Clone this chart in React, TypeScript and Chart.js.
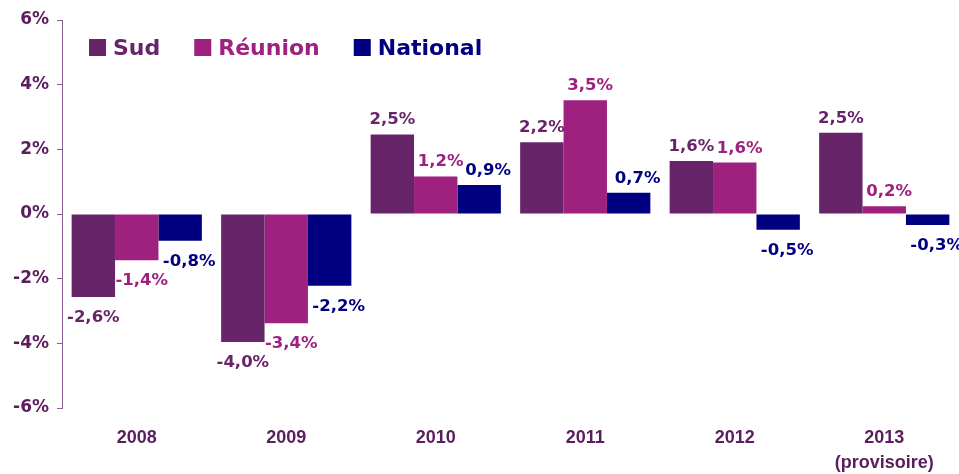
import React, { useEffect, useRef } from "react";
import { Chart, registerables } from "chart.js";

Chart.register(...registerables);

const categories: (string | string[])[] = ["2008", "2009", "2010", "2011", "2012", ["2013", "(provisoire)"]];
const seriesNames = ["Sud", "Réunion", "National"];
const sudValues = [-2.57, -3.96, 2.46, 2.22, 1.64, 2.51];
const reunionValues = [-1.43, -3.38, 1.16, 3.52, 1.59, 0.24];
const nationalValues = [-0.83, -2.22, 0.9, 0.66, -0.49, -0.34];
const seriesColors = ["#672469", "#9E2180", "#000080"];
const yTicks = [-6, -4, -2, 0, 2, 4, 6];

const AXIS_COLOR = "#8E5F95";
const TEXT_COLOR = "#5A1D5E";
const LABEL_FONT = "bold 16.5px 'DejaVu Sans'";
const LEGEND_FONT = "bold 22px 'DejaVu Sans'";
const LABEL_SHIFT = [0, 5, 9];

const fmt = (v: number) => (Math.round(v * 10) / 10).toFixed(1).replace(".", ",") + "%";

const valueLabels = {
  id: "valueLabels",
  afterDatasetsDraw(chart: any) {
    const ctx = chart.ctx;
    ctx.save();
    ctx.font = LABEL_FONT;
    ctx.textAlign = "center";
    ctx.textBaseline = "alphabetic";
    chart.data.datasets.forEach((ds: any, i: number) => {
      const meta = chart.getDatasetMeta(i);
      ctx.fillStyle = ds.backgroundColor;
      meta.data.forEach((bar: any, j: number) => {
        const v = ds.data[j];
        const p = bar.getProps(["x", "y"], true);
        const ty = v >= 0 ? p.y - 10 : p.y + 25;
        ctx.fillText(fmt(v), p.x + LABEL_SHIFT[i], ty);
      });
    });
    ctx.restore();
  },
};

const customLegend = {
  id: "customLegend",
  afterDraw(chart: any) {
    const ctx = chart.ctx;
    ctx.save();
    ctx.font = LEGEND_FONT;
    ctx.textAlign = "left";
    ctx.textBaseline = "alphabetic";
    let x = chart.chartArea.left + 27;
    const yc = 47;
    chart.data.datasets.forEach((ds: any) => {
      ctx.fillStyle = ds.backgroundColor;
      ctx.fillRect(x, yc - 8, 17, 17);
      x += 24;
      ctx.fillText(ds.label, x, yc + 8);
      x += ctx.measureText(ds.label).width + 34;
    });
    ctx.restore();
  },
};

export default function App() {
  const ref = useRef<HTMLCanvasElement>(null);
  useEffect(() => {
    document.body.style.margin = "0";
    const chart = new Chart(ref.current as HTMLCanvasElement, {
      type: "bar",
      data: {
        labels: categories as any,
        datasets: [sudValues, reunionValues, nationalValues].map((d, i) => ({
          label: seriesNames[i],
          data: d,
          backgroundColor: seriesColors[i],
          borderWidth: 0,
          categoryPercentage: 0.871,
          barPercentage: 1,
        })),
      },
      options: {
        responsive: false,
        animation: false,
        layout: { padding: { top: 20, right: -3, bottom: 0, left: 0 } },
        plugins: { legend: { display: false }, tooltip: { enabled: false } },
        scales: {
          x: {
            grid: { display: false, drawTicks: false },
            border: { display: false },
            ticks: {
              color: TEXT_COLOR,
              font: { family: "'Liberation Sans'", weight: "bold", size: 18, lineHeight: 1.4 },
              padding: 17,
              maxRotation: 0,
              autoSkip: false,
            },
            afterFit(scale: any) {
              scale.height = 66;
            },
          },
          y: {
            min: -6,
            max: 6,
            afterBuildTicks(scale: any) {
              scale.ticks = yTicks.map((v) => ({ value: v }));
            },
            grid: { drawOnChartArea: false, drawTicks: true, tickLength: 5, color: AXIS_COLOR },
            border: { display: true, color: AXIS_COLOR, width: 1 },
            ticks: {
              color: TEXT_COLOR,
              font: { family: "'DejaVu Sans'", weight: "bold", size: 17 },
              padding: 8,
              callback: (v: any) => v + "%",
            },
            afterFit(scale: any) {
              scale.width = 62;
            },
          },
        },
      },
      plugins: [valueLabels, customLegend],
    });
    return () => chart.destroy();
  }, []);
  return (
    <div style={{ width: 959, height: 474 }}>
      <canvas ref={ref} width={959} height={474} />
    </div>
  );
}
